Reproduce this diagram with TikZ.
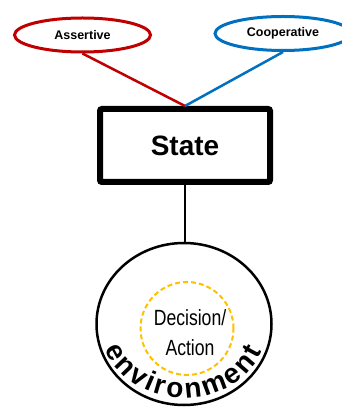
\documentclass[tikz,border=0pt]{standalone}
\usepackage{fontspec}
\setmainfont{Liberation Sans}
\newfontfamily\condfont[FakeStretch=0.8]{Liberation Sans}
\usetikzlibrary{shapes.geometric,decorations.text}
\definecolor{redc}{RGB}{192,0,0}
\definecolor{bluec}{RGB}{0,112,192}
\definecolor{goldc}{RGB}{255,192,0}
\begin{document}
\begin{tikzpicture}[x=1pt,y=1pt,
  oval/.style={ellipse, draw, line width=3pt, inner sep=0pt, minimum width=136pt, minimum height=34pt, font=\fontsize{12.5}{14}\selectfont\bfseries},
  statebox/.style={draw, line width=6pt, rounded corners=2pt, minimum width=170pt, minimum height=73pt, inner sep=0pt, font=\fontsize{28}{30}\selectfont\bfseries},
  link/.style={line width=2.5pt},
  envcircle/.style={ellipse, draw, line width=2.5pt, minimum width=175pt, minimum height=162pt, inner sep=0pt},
  inner/.style={circle, draw=goldc, dash pattern=on 5pt off 3pt, line width=2pt, minimum size=93pt, inner sep=0pt},
  condtext/.style={font=\condfont\fontsize{22}{30}\selectfont, align=center, inner sep=0pt}
]
\useasboundingbox (0,0) rectangle (341,407);
\node[oval, draw=redc] (A) at (82.5,372) {Assertive};
\node[oval, draw=bluec] (C) at (283,373.5) {Cooperative};
\node[statebox] (S) at (185,261.5) {State};
\draw[link, redc] (A.south) -- (S.north);
\draw[link, bluec] (C.south) -- (S.north);
\node[envcircle] (E) at (184,83) {};
\draw[link] (S.south) -- (S.south |- E.north);
\node[inner] (D) at (187,78.5) {};
\node[condtext] (T) at (190,74) {Decision/\\Action};
\path[decorate, decoration={text along path, text={|\fontsize{28}{28}\selectfont\bfseries|environment}, text align={fit to path}}]
  (E.center) ++(200:84 and 74) arc[start angle=200, end angle=338, x radius=84, y radius=74];
\end{tikzpicture}
\end{document}
